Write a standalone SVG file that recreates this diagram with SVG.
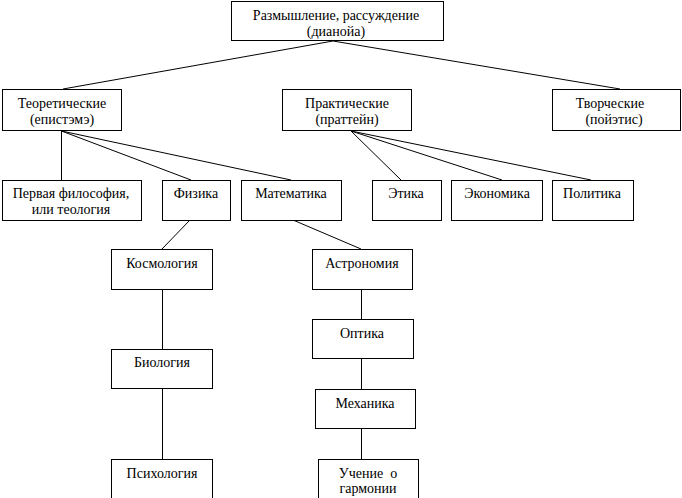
<svg xmlns="http://www.w3.org/2000/svg" width="682" height="498" viewBox="0 0 682 498">
<style>
rect{fill:#fff;stroke:#000;stroke-width:1}
line{stroke:#000;stroke-width:1}
text{font-family:'Liberation Serif','Times New Roman',serif;font-size:14px;fill:#000;text-anchor:middle}
</style>
<rect x="0" y="0" width="682" height="498" style="stroke:none"/>
<g id="connectors">
<line x1="333" y1="41" x2="63" y2="89"/>
<line x1="333" y1="41" x2="620" y2="89"/>
<line x1="61.5" y1="131" x2="61.5" y2="180"/>
<line x1="61.5" y1="131" x2="191" y2="180"/>
<line x1="61.5" y1="131" x2="291" y2="180"/>
<line x1="351" y1="131" x2="401" y2="180"/>
<line x1="351" y1="131" x2="502" y2="180"/>
<line x1="351" y1="131" x2="591" y2="180"/>
<line x1="190" y1="220" x2="162" y2="249"/>
<line x1="293" y1="220" x2="361" y2="249"/>
<line x1="162.5" y1="289" x2="162.5" y2="349"/>
<line x1="162.5" y1="388" x2="162.5" y2="459"/>
<line x1="361.5" y1="289" x2="361.5" y2="319"/>
<line x1="361.5" y1="358" x2="361.5" y2="389"/>
<line x1="361.5" y1="428" x2="361.5" y2="459"/>
</g>
<g id="root"><rect x="231.5" y="1.5" width="212" height="39"/><text x="336" y="20">Размышление, рассуждение</text><text x="336" y="36">(дианойа)</text></g>
<g id="theoretical"><rect x="2.5" y="89.5" width="119" height="41"/><text x="62" y="108">Теоретические</text><text x="62" y="124">(епистэмэ)</text></g>
<g id="practical"><rect x="282.5" y="89.5" width="129" height="41"/><text x="347" y="108">Практические</text><text x="347" y="124">(праттейн)</text></g>
<g id="creative"><rect x="552.5" y="89.5" width="128" height="41"/><text x="610" y="108">Творческие</text><text x="614" y="124">(пойэтис)</text></g>
<g id="first-philosophy"><rect x="2.5" y="180.5" width="139" height="40"/><text x="71" y="198">Первая философия,</text><text x="71" y="214">или теология</text></g>
<g id="physics"><rect x="162.5" y="180.5" width="68" height="40"/><text x="196" y="198">Физика</text></g>
<g id="mathematics"><rect x="241.5" y="180.5" width="100" height="40"/><text x="291" y="198">Математика</text></g>
<g id="ethics"><rect x="372.5" y="180.5" width="69" height="40"/><text x="406" y="198">Этика</text></g>
<g id="economics"><rect x="451.5" y="180.5" width="91" height="40"/><text x="497" y="198">Экономика</text></g>
<g id="politics"><rect x="552.5" y="180.5" width="81" height="40"/><text x="592" y="198">Политика</text></g>
<g id="cosmology"><rect x="111.5" y="249.5" width="101" height="40"/><text x="162" y="268">Космология</text></g>
<g id="astronomy"><rect x="312.5" y="249.5" width="100" height="40"/><text x="362" y="268">Астрономия</text></g>
<g id="biology"><rect x="111.5" y="349.5" width="101" height="39"/><text x="162" y="367">Биология</text></g>
<g id="psychology"><rect x="111.5" y="459.5" width="101" height="42"/><text x="162" y="478">Психология</text></g>
<g id="optics"><rect x="312.5" y="319.5" width="101" height="39"/><text x="362" y="338">Оптика</text></g>
<g id="mechanics"><rect x="315.5" y="389.5" width="100" height="39"/><text x="365" y="408">Механика</text></g>
<g id="harmony"><rect x="318.5" y="459.5" width="100" height="42"/><text x="368" y="478" xml:space="preserve">Учение  о</text><text x="368" y="493">гармонии</text></g>
</svg>
